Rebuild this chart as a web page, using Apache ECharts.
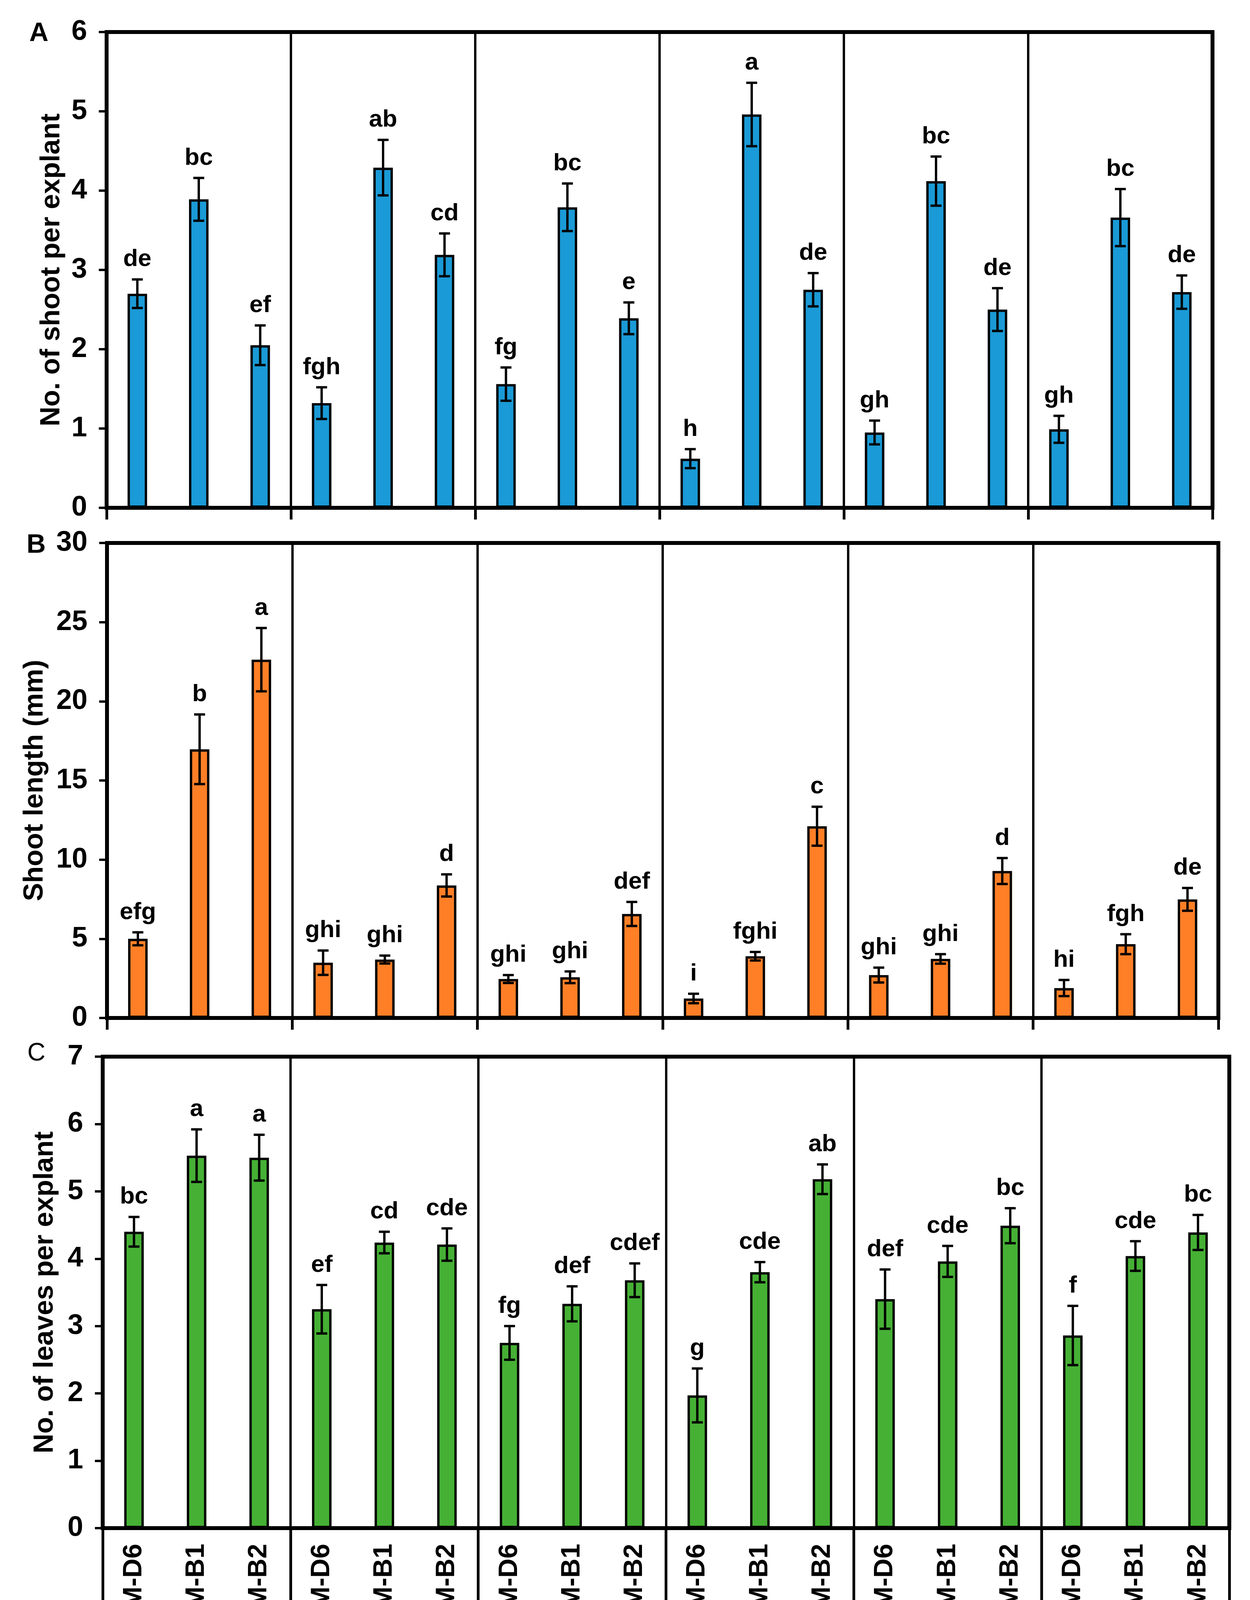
<!DOCTYPE html>
<html><head><meta charset="utf-8">
<script src="https://cdn.jsdelivr.net/npm/echarts@6/dist/echarts.min.js"></script>
<style>html,body{margin:0;padding:0;background:#fff}#chart{width:3201px;height:4750px}</style>
</head><body><div id="chart"></div>
<script>
// ---------- data ----------
const treatments = ['BM-D6', 'WPM-B1', 'WPM-B2'];
const groups = [
  'TIB',
  'Magenta box\nwith Closure,\nPTL-100C™',
  'Magenta box\nwith Closure,\nPTL-100C™,\nVented',
  'Glass jar,\nClosure,\nRound, Screw\nCap',
  'Microbox\ncontainer, Sac\nO2',
  'SteriCon™-8'
];
const panelLetters = ['A', 'B', 'C'];
const yTitles = ['No. of shoot per explant', 'Shoot length (mm)', 'No. of leaves per explant'];
const xTitle = 'Culture systems';

const shootsMean = [2.70, 3.89, 2.05, 1.32, 4.29, 3.19, 1.56, 3.79, 2.39, 0.62, 4.96, 2.75, 0.95, 4.12, 2.50, 0.99, 3.66, 2.72];
const shootsErr  = [0.18, 0.27, 0.25, 0.20, 0.35, 0.27, 0.21, 0.30, 0.20, 0.12, 0.40, 0.21, 0.15, 0.31, 0.27, 0.17, 0.36, 0.21];
const shootsSig  = ['de', 'bc', 'ef', 'fgh', 'ab', 'cd', 'fg', 'bc', 'e', 'h', 'a', 'de', 'gh', 'bc', 'de', 'gh', 'bc', 'de'];

const lengthMean = [5.00, 16.97, 22.63, 3.49, 3.69, 8.37, 2.46, 2.57, 6.57, 1.23, 3.90, 12.11, 2.71, 3.73, 9.28, 1.89, 4.66, 7.49];
const lengthErr  = [0.41, 2.20, 2.00, 0.77, 0.25, 0.70, 0.25, 0.37, 0.76, 0.30, 0.27, 1.23, 0.47, 0.30, 0.82, 0.51, 0.63, 0.72];
const lengthSig  = ['efg', 'b', 'a', 'ghi', 'ghi', 'd', 'ghi', 'ghi', 'def', 'i', 'fghi', 'c', 'ghi', 'ghi', 'd', 'hi', 'fgh', 'de'];

const leavesMean = [4.40, 5.53, 5.50, 3.25, 4.24, 4.21, 2.75, 3.33, 3.68, 1.97, 3.80, 5.18, 3.40, 3.96, 4.49, 2.86, 4.04, 4.39];
const leavesErr  = [0.22, 0.39, 0.34, 0.36, 0.16, 0.24, 0.25, 0.26, 0.25, 0.40, 0.15, 0.22, 0.44, 0.23, 0.26, 0.44, 0.22, 0.26];
const leavesSig  = ['bc', 'a', 'a', 'ef', 'cd', 'cde', 'fg', 'def', 'cdef', 'g', 'cde', 'ab', 'def', 'cde', 'bc', 'f', 'cde', 'bc'];

const yMax = [6, 30, 7];
const yStep = [1, 5, 1];

// ---------- build ----------
const categories = groups.flatMap(() => treatments);
const FONT = '"Liberation Sans", Arial, sans-serif';
const colors = ['#1A9AD6', '#FF7F27', '#46B035'];
const means = [shootsMean, lengthMean, leavesMean];
const errs = [shootsErr, lengthErr, leavesErr];
const sigs = [shootsSig, lengthSig, leavesSig];

const gridBoxes = [
  {left: 273, top: 82, width: 2832, height: 1218},
  {left: 274, top: 1390, width: 2846, height: 1216},
  {left: 263, top: 2705, width: 2885, height: 1207}
];
const nameGaps = [105, 149, 112];
const groupBoundary = (idx) => idx % 3 === 0;

const grid = gridBoxes.map(b => Object.assign({show: true, borderColor: '#000', borderWidth: 10, backgroundColor: 'transparent'}, b));

const xAxis = [0, 1, 2].map(gi => ({
  type: 'category', gridIndex: gi, data: categories, boundaryGap: true, position: 'bottom',
  axisLine: {show: true, lineStyle: {color: '#000', width: 10}},
  axisTick: {show: true, interval: groupBoundary, length: gi === 2 ? 690 : 30, lineStyle: {color: '#000', width: 7}},
  splitLine: {show: true, interval: groupBoundary, lineStyle: {color: '#000', width: 6}},
  axisLabel: gi === 2 ? {show: true, interval: 0, rotate: 90, margin: 40, fontSize: 68, fontWeight: 'bold', color: '#000', fontFamily: FONT} : {show: false}
}));
xAxis.push({
  type: 'category', gridIndex: 2, data: groups, boundaryGap: true, position: 'bottom',
  axisLine: {show: false}, axisTick: {show: false}, splitLine: {show: false},
  axisLabel: {show: true, interval: 0, margin: 368, fontSize: 68, fontWeight: 'bold', lineHeight: 80, color: '#000', fontFamily: FONT, align: 'center'},
  name: xTitle, nameLocation: 'middle', nameGap: 704,
  nameTextStyle: {fontSize: 68, fontWeight: 'bold', color: '#000', fontFamily: FONT}
});

const yAxis = [0, 1, 2].map(gi => ({
  type: 'value', gridIndex: gi, min: 0, max: yMax[gi], interval: yStep[gi],
  name: yTitles[gi], nameLocation: 'middle', nameGap: nameGaps[gi],
  nameTextStyle: {fontSize: 70, fontWeight: 'bold', color: '#000', fontFamily: FONT},
  axisLine: {show: true, lineStyle: {color: '#000', width: 10}},
  axisTick: {show: true, length: 20, lineStyle: {color: '#000', width: 6}},
  axisLabel: {fontSize: 72, fontWeight: 'bold', color: '#000', margin: 50, fontFamily: FONT},
  splitLine: {show: false}
}));

const series = [];
[0, 1, 2].forEach(gi => {
  series.push({
    type: 'bar', xAxisIndex: gi, yAxisIndex: gi, data: means[gi], barWidth: 50,
    itemStyle: {color: colors[gi], borderColor: '#000', borderWidth: 6}, z: 3
  });
  const letters = sigs[gi];
  series.push({
    type: 'custom', xAxisIndex: gi, yAxisIndex: gi, z: 5,
    data: means[gi].map((m, i) => [i, m, errs[gi][i]]),
    encode: {x: 0, y: 1},
    renderItem: function (params, api) {
      const x = api.value(0), m = api.value(1), e = api.value(2);
      const top = api.coord([x, m + e]);
      const bot = api.coord([x, m - e]);
      const hw = 14;
      const ls = {stroke: '#000', lineWidth: 6};
      return {
        type: 'group',
        children: [
          {type: 'line', shape: {x1: top[0], y1: top[1], x2: bot[0], y2: bot[1]}, style: ls},
          {type: 'line', shape: {x1: top[0] - hw, y1: top[1], x2: top[0] + hw, y2: top[1]}, style: ls},
          {type: 'line', shape: {x1: bot[0] - hw, y1: bot[1], x2: bot[0] + hw, y2: bot[1]}, style: ls},
          {type: 'text', x: top[0], y: top[1] - 20,
           style: {text: letters[params.dataIndex], fill: '#000', fontSize: 62, fontWeight: 'bold', fontFamily: FONT, align: 'center', verticalAlign: 'bottom'}}
        ]
      };
    }
  });
});

const title = [
  {text: panelLetters[0], left: 75, top: 52, padding: 0, textStyle: {fontSize: 68, fontWeight: 'bold', color: '#000', fontFamily: FONT}},
  {text: panelLetters[1], left: 68, top: 1362, padding: 0, textStyle: {fontSize: 68, fontWeight: 'bold', color: '#000', fontFamily: FONT}},
  {text: panelLetters[2], left: 70, top: 2665, padding: 0, textStyle: {fontSize: 64, fontWeight: 'normal', color: '#000', fontFamily: FONT}}
];

const chart = echarts.init(document.getElementById('chart'), null, {renderer: 'canvas'});
chart.setOption({
  backgroundColor: '#fff', animation: false,
  textStyle: {fontFamily: FONT},
  title, grid, xAxis, yAxis, series
});
</script>
</body></html>
